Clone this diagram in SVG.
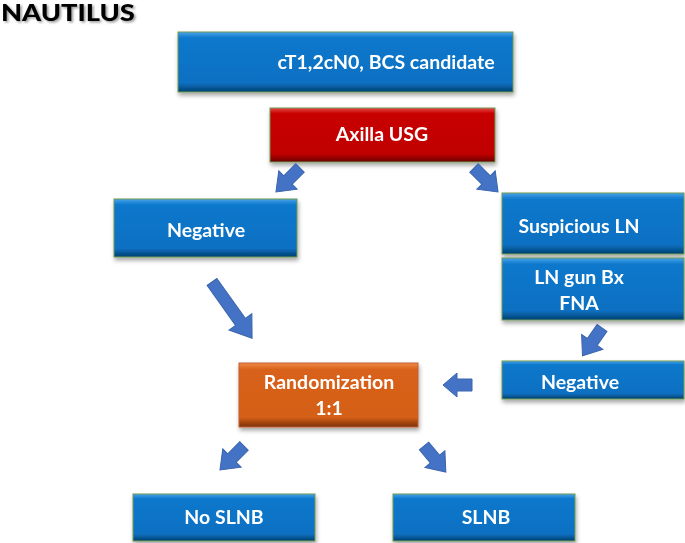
<svg xmlns="http://www.w3.org/2000/svg" width="685" height="543" viewBox="0 0 685 543">
<style>
.t{font-family:Lato,"Liberation Sans",sans-serif;font-weight:bold;font-size:19.5px;fill:#fff;text-anchor:middle}
.title{font-family:Lato,"Liberation Sans",sans-serif;font-weight:900;font-size:23.5px;fill:#000}
.blue{fill:url(#gBlue);stroke:#6f9a55;stroke-width:1}
.red{fill:url(#gRed);stroke:#6f9a55;stroke-width:1}
.orange{fill:url(#gOrange);stroke:#c06030;stroke-width:1}
.arr{fill:#4472C4;stroke:#3a64ad;stroke-width:1}
</style>
<defs>
<linearGradient id="gBlue" x1="0" y1="0" x2="0" y2="1">
<stop offset="0" stop-color="#4aa3ea"/><stop offset="0.1" stop-color="#0c78cc"/><stop offset="0.85" stop-color="#0870c2"/><stop offset="1" stop-color="#05406f"/>
</linearGradient>
<linearGradient id="gRed" x1="0" y1="0" x2="0" y2="1">
<stop offset="0" stop-color="#e84a4a"/><stop offset="0.1" stop-color="#c80000"/><stop offset="0.85" stop-color="#c00000"/><stop offset="1" stop-color="#6a0000"/>
</linearGradient>
<linearGradient id="gOrange" x1="0" y1="0" x2="0" y2="1">
<stop offset="0" stop-color="#f08a4a"/><stop offset="0.1" stop-color="#d8621a"/><stop offset="0.85" stop-color="#d45f18"/><stop offset="1" stop-color="#7a3208"/>
</linearGradient>
<filter id="sh" x="-10%" y="-10%" width="125%" height="140%">
<feDropShadow dx="1" dy="3" stdDeviation="2" flood-color="#000" flood-opacity="0.35"/>
</filter>
<filter id="tsh" x="-10%" y="-20%" width="130%" height="160%">
<feDropShadow dx="1.5" dy="1.5" stdDeviation="1" flood-color="#000" flood-opacity="0.4"/>
</filter>
<path id="sa" d="M0,-6 L17,-6 L17,-13 L34,0 L17,13 L17,6 L0,6 Z"/>
</defs>

<text class="title" x="0" y="0" transform="translate(1,21) scale(1.16,1)" filter="url(#tsh)">NAUTILUS</text>

<g id="n-start" filter="url(#sh)"><rect class="blue" x="178" y="32" width="335" height="60"/><text class="t" x="386" y="69">cT1,2cN0, BCS candidate</text></g>
<g id="n-usg" filter="url(#sh)"><rect class="red" x="270" y="108" width="225" height="54"/><text class="t" x="382" y="141">Axilla USG</text></g>
<g id="n-neg1" filter="url(#sh)"><rect class="blue" x="114" y="199" width="183" height="58"/><text class="t" x="206" y="237">Negative</text></g>
<g id="n-susp" filter="url(#sh)"><rect class="blue" x="502" y="193" width="182" height="61"/><text class="t" x="579" y="233">Suspicious LN</text></g>
<g id="n-bx" filter="url(#sh)"><rect class="blue" x="502" y="258" width="182" height="62"/><text class="t" x="579" y="284">LN gun Bx</text><text class="t" x="579" y="310">FNA</text></g>
<g id="n-neg2" filter="url(#sh)"><rect class="blue" x="502" y="361" width="182" height="38"/><text class="t" x="580" y="389">Negative</text></g>
<g id="n-rand" filter="url(#sh)"><rect class="orange" x="239" y="363" width="179" height="64"/><text class="t" x="329" y="389">Randomization</text><text class="t" x="329" y="415">1:1</text></g>
<g id="n-noslnb" filter="url(#sh)"><rect class="blue" x="133" y="494" width="182" height="47"/><text class="t" x="224" y="524">No SLNB</text></g>
<g id="n-slnb" filter="url(#sh)"><rect class="blue" x="393" y="494" width="182" height="47"/><text class="t" x="486" y="524">SLNB</text></g>

<g id="connectors">
<use href="#sa" class="arr" transform="translate(300,168) rotate(135)"/>
<use href="#sa" class="arr" transform="translate(474,168) rotate(45)"/>
<path class="arr" d="M0,-6 L49,-6 L49,-14 L69,0 L49,14 L49,6 L0,6 Z" transform="translate(212,282) rotate(54.5)"/>
<path class="arr" d="M0,-6 L15,-6 L15,-12 L29,0 L15,12 L15,6 L0,6 Z" transform="translate(472,385) rotate(180)"/>
<use href="#sa" class="arr" transform="translate(602,328) rotate(125)"/>
<use href="#sa" class="arr" transform="translate(244,446) rotate(135)"/>
<use href="#sa" class="arr" transform="translate(424,446) rotate(50)"/>
</g>
</svg>
